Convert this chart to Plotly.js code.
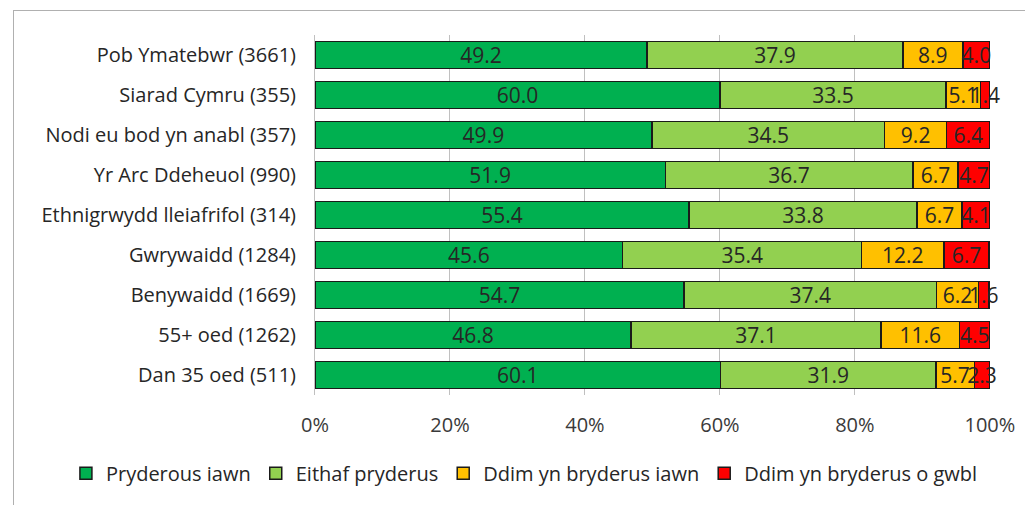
<!DOCTYPE html>
<html>
<head>
<meta charset="utf-8">
<script src="https://cdn.plot.ly/plotly-3.0.1.min.js"></script>
<style>
  html, body { margin: 0; padding: 0; background: #fff; }
  #chart { width: 1025px; height: 505px; }
  #frame { position: absolute; left: 13px; top: 10px; width: 1020px; height: 500px;
           border-left: 1.5px solid #b0b0b0; border-top: 1.5px solid #b0b0b0; pointer-events: none; }
</style>
</head>
<body>
<div id="chart"></div>
<div id="frame"></div>
<script>
const categories = [
  "Pob Ymatebwr (3661)",
  "Siarad Cymru (355)",
  "Nodi eu bod yn anabl (357)",
  "Yr Arc Ddeheuol (990)",
  "Ethnigrwydd lleiafrifol (314)",
  "Gwrywaidd (1284)",
  "Benywaidd (1669)",
  "55+ oed (1262)",
  "Dan 35 oed (511)"
];
const seriesNames = ["Pryderous iawn", "Eithaf pryderus", "Ddim yn bryderus iawn", "Ddim yn bryderus o gwbl"];
const pryderousIawn = [49.2, 60.0, 49.9, 51.9, 55.4, 45.6, 54.7, 46.8, 60.1];
const eithafPryderus = [37.9, 33.5, 34.5, 36.7, 33.8, 35.4, 37.4, 37.1, 31.9];
const ddimIawn = [8.9, 5.1, 9.2, 6.7, 6.7, 12.2, 6.2, 11.6, 5.7];
const ddimGwbl = [4.0, 1.4, 6.4, 4.7, 4.1, 6.7, 1.6, 4.5, 2.3];
const tickVals = [0, 20, 40, 60, 80, 100];
const tickText = ["0%", "20%", "40%", "60%", "80%", "100%"];

const colors = ["#00B050", "#92D050", "#FFC000", "#FF0000"];
const allSeries = [pryderousIawn, eithafPryderus, ddimIawn, ddimGwbl];
const FONT = "'Open Sans', 'Noto Sans', sans-serif";

const traces = allSeries.map((vals, i) => ({
  type: "bar",
  orientation: "h",
  name: seriesNames[i],
  y: categories,
  x: vals,
  text: vals.map(v => v.toFixed(1)),
  textposition: "inside",
  insidetextanchor: "middle",
  textangle: 0,
  constraintext: "none",
  cliponaxis: false,
  insidetextfont: { family: FONT, size: 21, color: "#262626" },
  marker: { color: colors[i], line: { color: "#1a1a1a", width: 1.5 } },
  hoverinfo: "skip"
}));

const layout = {
  width: 1025, height: 505,
  margin: { l: 315, r: 35, t: 35, b: 110 },
  barmode: "stack",
  bargap: 0.33,
  paper_bgcolor: "#ffffff",
  plot_bgcolor: "#ffffff",
  font: { family: FONT, size: 20, color: "#262626" },
  xaxis: {
    range: [0, 100.02],
    tickvals: tickVals,
    ticktext: tickText,
    showgrid: true,
    gridcolor: "#c0c0c0",
    gridwidth: 1,
    zeroline: false,
    showline: false,
    ticks: "",
    ticklabelstandoff: 16,
    tickfont: { size: 20, color: "#3a3a3a" },
    fixedrange: true
  },
  yaxis: {
    autorange: "reversed",
    showline: true,
    linecolor: "#c0c0c0",
    linewidth: 1,
    ticks: "",
    ticklabelstandoff: 14,
    tickfont: { size: 20, color: "#262626" },
    fixedrange: true
  },
  legend: {
    orientation: "h",
    xref: "paper", yref: "paper",
    x: -0.369, xanchor: "left",
    y: -0.163, yanchor: "top",
    font: { size: 20, color: "#262626" },
    traceorder: "normal",
    itemwidth: 20,
    tracegroupgap: 0
  },
  showlegend: true
};

Plotly.newPlot("chart", traces, layout, { displayModeBar: false, staticPlot: true });
</script>
</body>
</html>
